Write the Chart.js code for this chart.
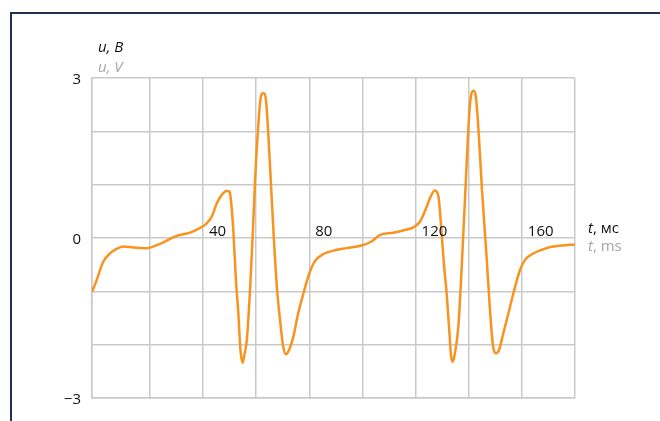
<!DOCTYPE html>
<html>
<head>
<meta charset="utf-8">
<script src="https://cdn.jsdelivr.net/npm/chart.js@4"></script>
<style>
  body { margin: 0; background: #fff; }
  #wrap { position: relative; width: 660px; height: 421px; }
  #frame { position: absolute; left: 10px; top: 12px; right: 0; bottom: 0;
           border-top: 2px solid #1f3250; border-left: 2px solid #1f3250; }
  canvas { position: absolute; left: 0; top: 0; }
</style>
</head>
<body>
<div id="wrap">
  <div id="frame"></div>
  <canvas id="chart-u" width="660" height="421"></canvas>
</div>
<script>
// time, ms
const timeMs = [
  -1.77, 0, 2.4, 5.0, 7.3, 10.0, 13.8, 18.8, 23.8, 30.1, 35.1, 38.9, 41.1, 43.3, 45.2, 46.8,
  48.9, 50.0, 50.5, 51.4, 52.4, 53.3, 54.1, 54.9, 55.6, 56.5, 57.7, 58.8, 59.6, 60.7, 61.6,
  62.7, 63.7, 64.7, 65.5, 66.7, 67.9, 69.0, 70.1, 71.2, 72.4, 74.0, 75.7, 77.8, 79.9, 82.2,
  85.3, 89.7, 94.1, 100.3, 103.6, 106.6, 111.6, 116.0, 119.2, 121.7, 124.2, 125.8, 127.3,
  128.6, 129.8, 130.7, 131.7, 132.8, 133.3, 134.0, 134.8, 136.1, 137.5, 139.3, 140.3, 141.1,
  141.8, 142.6, 143.6, 145.0, 146.8, 148.0, 149.1, 150.3, 151.4, 153.0, 154.8, 156.8, 159.3,
  161.2, 164.3, 167.6, 170.6, 175.1, 180.0
];
// voltage, V
const voltage = [
  -1.01, -0.79, -0.45, -0.29, -0.21, -0.16, -0.18, -0.19, -0.11, 0.04, 0.10, 0.19, 0.26, 0.40, 0.65, 0.79,
  0.88, 0.87, 0.72, 0.15, -0.79, -1.41, -2.10, -2.34, -2.19, -1.91, -0.98, 0.15, 1.09, 2.03, 2.59,
  2.72, 2.59, 1.84, 1.09, -0.04, -0.98, -1.54, -2.01, -2.18, -2.10, -1.85, -1.44, -1.04, -0.68, -0.43,
  -0.30, -0.23, -0.19, -0.13, -0.06, 0.06, 0.10, 0.15, 0.20, 0.31, 0.59, 0.79, 0.89,
  0.78, 0.09, -0.51, -1.04, -1.82, -2.19, -2.32, -2.16, -1.66, -0.41, 1.47, 2.40, 2.72,
  2.76, 2.68, 2.09, 0.90, -0.41, -1.35, -2.01, -2.16, -2.10, -1.79, -1.44, -1.04, -0.60,
  -0.41, -0.29, -0.22, -0.17, -0.14, -0.12
];

const xGridTicks = [-1.77, 20, 40, 60, 80, 100, 120, 140, 160, 180];
const xLabelTicks = [40, 80, 120, 160];
const yLabelTicks = [3, 0, -3];

const gridColor = '#c9c9c9';
const font = '15px "Open Sans", "Noto Sans", sans-serif';

// labels drawn inside / around the plot
const labelsPlugin = {
    id: 'labels',
    afterDraw(chart) {
        const ctx = chart.ctx;
        const xs = chart.scales.x;
        const ys = chart.scales.y;
        ctx.save();
        ctx.font = font;
        ctx.fillStyle = '#111';

        // y tick labels
        ctx.textAlign = 'right';
        ctx.textBaseline = 'middle';
        yLabelTicks.forEach(v => {
            const label = v < 0 ? '\u2212' + Math.abs(v) : String(v);
            ctx.fillText(label, 81, ys.getPixelForValue(v) + 2);
        });

        // x tick labels, above the zero line
        ctx.textAlign = 'left';
        ctx.textBaseline = 'alphabetic';
        const y0 = ys.getPixelForValue(0);
        xLabelTicks.forEach(v => {
            ctx.fillText(String(v), xs.getPixelForValue(v) + 6, y0 - 2);
        });

        // axis titles
        drawTitle(ctx, 'u', ', B', 98, 52, '#111', true);
        drawTitle(ctx, 'u', ', V', 98, 72, '#a6a6a6', true);
        drawTitle(ctx, 't', ', мс', 588, 233, '#111', false);
        drawTitle(ctx, 't', ', ms', 588, 251, '#a6a6a6', false);
        ctx.restore();
    }
};

function drawTitle(ctx, sym, unit, x, y, color, unitItalic) {
    ctx.fillStyle = color;
    ctx.font = 'italic ' + font;
    ctx.fillText(sym, x, y);
    const w = ctx.measureText(sym).width;
    ctx.font = (unitItalic ? 'italic ' : '') + font;
    ctx.fillText(unit, x + w, y);
}

const ctx = document.getElementById('chart-u').getContext('2d');
const chartU = new Chart(ctx, {
    type: 'line',
    data: {
        datasets: [{
            data: timeMs.map((t, i) => ({ x: t, y: voltage[i] })),
            borderColor: '#f7931e',
            borderWidth: 2.5,
            pointRadius: 0,
            cubicInterpolationMode: 'monotone',
            fill: false,
        }]
    },
    options: {
        responsive: false,
        animation: false,
        devicePixelRatio: 1,
        layout: { padding: { left: 92, top: 78, right: 85, bottom: 23 } },
        plugins: { legend: { display: false }, tooltip: { enabled: false } },
        scales: {
            x: {
                type: 'linear',
                min: -1.77,
                max: 180,
                afterBuildTicks: axis => { axis.ticks = xGridTicks.map(v => ({ value: v })); },
                ticks: { display: false },
                grid: { color: gridColor, lineWidth: 1.5, drawTicks: false },
                border: { color: gridColor, width: 1.5 },
            },
            y: {
                min: -3,
                max: 3,
                ticks: { display: false, stepSize: 1 },
                grid: { color: gridColor, lineWidth: 1.5, drawTicks: false },
                border: { color: gridColor, width: 1.5 },
            }
        }
    },
    plugins: [labelsPlugin]
});
</script>
</body>
</html>
